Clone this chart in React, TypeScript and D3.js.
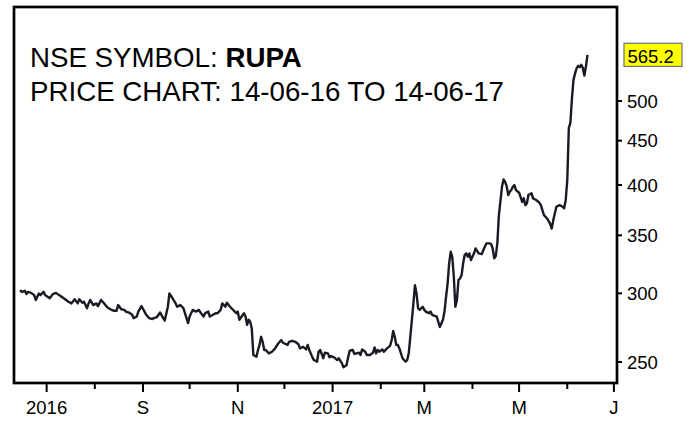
import React from "react";
import * as d3 from "d3";

const WIDTH = 700;
const HEIGHT = 428;

// Daily closing prices, NSE: RUPA
const dates = [
  "2016-06-14","2016-06-15","2016-06-17","2016-06-18","2016-06-19","2016-06-21","2016-06-23","2016-06-24","2016-06-26","2016-06-27",
  "2016-06-29","2016-06-30","2016-07-03","2016-07-05","2016-07-07","2016-07-09","2016-07-12","2016-07-15","2016-07-17","2016-07-19",
  "2016-07-21","2016-07-22","2016-07-24","2016-07-25","2016-07-27","2016-07-28","2016-07-29","2016-07-31","2016-08-02","2016-08-03",
  "2016-08-05","2016-08-07","2016-08-09","2016-08-11","2016-08-13","2016-08-15","2016-08-16","2016-08-18","2016-08-20","2016-08-21",
  "2016-08-23","2016-08-25","2016-08-26","2016-08-28","2016-08-29","2016-08-31","2016-09-02","2016-09-03","2016-09-05","2016-09-07",
  "2016-09-08","2016-09-10","2016-09-11","2016-09-12","2016-09-14","2016-09-15","2016-09-17","2016-09-18","2016-09-20","2016-09-22",
  "2016-09-23","2016-09-25","2016-09-27","2016-09-29","2016-09-30","2016-10-01","2016-10-03","2016-10-05","2016-10-07","2016-10-08",
  "2016-10-10","2016-10-11","2016-10-13","2016-10-14","2016-10-16","2016-10-18","2016-10-19","2016-10-21","2016-10-22","2016-10-24",
  "2016-10-25","2016-10-27","2016-10-29","2016-10-31","2016-11-01","2016-11-02","2016-11-05","2016-11-06","2016-11-07","2016-11-08",
  "2016-11-09","2016-11-10","2016-11-11","2016-11-13","2016-11-14","2016-11-15","2016-11-16","2016-11-17","2016-11-18","2016-11-19",
  "2016-11-21","2016-11-23","2016-11-25","2016-11-27","2016-11-29","2016-11-30","2016-12-03","2016-12-04","2016-12-06","2016-12-08",
  "2016-12-10","2016-12-11","2016-12-13","2016-12-15","2016-12-16","2016-12-17","2016-12-19","2016-12-20","2016-12-22","2016-12-23",
  "2016-12-24","2016-12-25","2016-12-26","2016-12-27","2016-12-29","2016-12-30","2016-12-31","2017-01-02","2017-01-04","2017-01-05",
  "2017-01-07","2017-01-08","2017-01-10","2017-01-11","2017-01-12","2017-01-14","2017-01-15","2017-01-18","2017-01-19","2017-01-20",
  "2017-01-22","2017-01-23","2017-01-25","2017-01-27","2017-01-28","2017-01-29","2017-01-30","2017-01-31","2017-02-02","2017-02-03",
  "2017-02-05","2017-02-07","2017-02-08","2017-02-09","2017-02-10","2017-02-11","2017-02-12","2017-02-13","2017-02-14","2017-02-15",
  "2017-02-17","2017-02-18","2017-02-19","2017-02-20","2017-02-22","2017-02-23","2017-02-24","2017-02-25","2017-02-26","2017-02-28",
  "2017-03-01","2017-03-02","2017-03-04","2017-03-05","2017-03-06","2017-03-09","2017-03-10","2017-03-11","2017-03-13","2017-03-14",
  "2017-03-15","2017-03-16","2017-03-17","2017-03-18","2017-03-19","2017-03-20","2017-03-21","2017-03-22","2017-03-23","2017-03-24",
  "2017-03-25","2017-03-26","2017-03-27","2017-03-28","2017-03-29","2017-03-30","2017-03-31","2017-04-02","2017-04-03","2017-04-05",
  "2017-04-07","2017-04-08","2017-04-10","2017-04-12","2017-04-13","2017-04-14","2017-04-15","2017-04-16","2017-04-17","2017-04-18",
  "2017-04-20","2017-04-21","2017-04-22","2017-04-23","2017-04-24","2017-04-25","2017-04-26","2017-04-27","2017-04-28","2017-04-29",
  "2017-05-01","2017-05-03","2017-05-04","2017-05-05","2017-05-06","2017-05-07","2017-05-09","2017-05-10","2017-05-12","2017-05-14",
  "2017-05-15","2017-05-16","2017-05-17","2017-05-19","2017-05-21","2017-05-22","2017-05-23","2017-05-24","2017-05-25","2017-05-27",
  "2017-05-29","2017-05-30","2017-05-31","2017-06-01","2017-06-02","2017-06-03","2017-06-04","2017-06-05","2017-06-06","2017-06-07",
  "2017-06-08","2017-06-09","2017-06-10","2017-06-11","2017-06-12","2017-06-13","2017-06-14",
];

const closes = [
  302.6,301.2,302.0,299.4,301.2,300.4,298.6,294.8,299.9,298.6,
  301.2,298.6,296.1,299.4,300.4,298.6,296.1,293.4,292.1,295.3,
  292.1,295.3,292.6,293.4,288.4,292.1,294.8,290.8,292.1,290.0,
  294.8,292.1,289.1,287.6,286.5,286.5,290.8,287.6,287.1,285.8,
  285.1,283.4,280.9,282.1,285.8,290.0,285.8,283.4,280.9,280.2,
  280.9,281.7,283.4,285.1,280.9,279.1,289.5,299.9,296.1,292.1,
  289.5,290.8,288.4,280.9,277.2,282.1,287.1,285.8,287.1,285.1,
  282.1,284.6,285.8,282.1,283.4,284.6,284.6,287.1,292.1,289.5,
  292.6,289.5,287.1,284.6,285.8,279.7,284.6,282.1,275.9,279.7,
  278.2,273.2,254.7,253.5,258.1,261.6,267.3,263.8,258.1,258.1,
  255.8,256.9,259.2,262.6,265.0,263.1,261.6,263.8,264.5,263.8,
  262.1,259.2,260.3,258.5,261.6,258.1,253.1,251.3,250.2,256.9,
  258.1,255.4,252.5,256.2,255.8,253.1,254.0,253.1,251.3,252.5,
  249.1,246.5,248.0,253.1,257.6,258.1,255.4,256.2,254.7,258.5,
  256.9,254.7,254.7,256.2,259.9,255.8,258.1,256.9,258.5,256.9,
  259.2,260.9,265.0,271.4,267.3,261.6,261.6,259.2,255.8,252.5,
  250.2,251.3,255.8,267.3,292.1,306.6,299.9,288.4,287.1,289.5,
  287.1,285.8,284.6,285.8,283.4,282.1,278.2,274.4,279.7,285.8,
  297.3,307.9,324.9,335.0,330.6,313.5,289.5,294.8,310.7,312.1,
  314.9,324.9,332.1,333.6,330.6,333.6,327.7,333.6,338.0,333.6,
  333.0,336.5,342.6,342.6,342.0,338.0,329.2,331.2,342.6,369.3,
  398.1,406.0,403.4,398.8,389.5,392.9,394.7,398.1,399.9,394.7,
  391.9,382.6,386.1,379.2,380.9,389.5,391.3,386.1,384.4,381.7,
  379.2,374.3,369.3,366.0,360.8,356.3,364.4,370.9,377.6,379.2,
  377.6,376.0,384.4,405.0,465.5,471.7,503.1,528.9,537.7,545.4,
  548.9,547.0,550.4,546.0,535.0,547.9,565.2,
];

const yTicks = [250, 300, 350, 400, 450, 500];
const xMajorTicks = ["2016-07-01", "2016-09-01", "2016-11-01", "2017-01-01", "2017-03-01", "2017-05-01", "2017-07-01"];
const xMajorLabels = ["2016", "S", "N", "2017", "M", "M", "J"];
const xMinorTicks = ["2016-08-01", "2016-10-01", "2016-12-01", "2017-02-01", "2017-04-01", "2017-06-01"];

const titleLine1 = "NSE SYMBOL: ";
const titleSymbol = "RUPA";
const titleLine2 = "PRICE CHART: 14-06-16 TO 14-06-17";

const FONT = "'Liberation Sans', Arial, Helvetica, sans-serif";

export default function App() {
  const parse = d3.timeParse("%Y-%m-%d");
  const frame = { left: 14, right: 617, top: 7, bottom: 383 };

  const x = d3
    .scaleTime()
    .domain([parse("2016-06-10")!, parse("2017-07-03")!])
    .range([frame.left, frame.right]);

  const y = d3.scaleLog().domain([250, 500]).range([362, 101]);

  const points = dates.map((d, i) => ({ date: parse(d)!, value: closes[i] }));
  const line = d3
    .line<{ date: Date; value: number }>()
    .x((d) => x(d.date))
    .y((d) => y(d.value));

  const last = closes[closes.length - 1];
  const lastY = y(last);

  return (
    <svg
      width={WIDTH}
      height={HEIGHT}
      style={{ position: "absolute", left: 0, top: 0, background: "#ffffff" }}
      fontFamily={FONT}
    >
      <rect x={0} y={0} width={WIDTH} height={HEIGHT} fill="#ffffff" />

      {/* price line */}
      <path d={line(points) ?? ""} fill="none" stroke="#1a1a24" strokeWidth={2.4} strokeLinejoin="round" />

      {/* plot frame */}
      <rect
        x={frame.left}
        y={frame.top}
        width={frame.right - frame.left}
        height={frame.bottom - frame.top}
        fill="none"
        stroke="#000"
        strokeWidth={2.7}
      />

      {/* title */}
      <text x={30} y={67} fontSize={27.7} fill="#000">
        {titleLine1}
        <tspan fontWeight="bold">{titleSymbol}</tspan>
      </text>
      <text x={30} y={100.5} fontSize={27.7} fill="#000">
        {titleLine2}
      </text>

      {/* right price axis */}
      {yTicks.map((t) => (
        <g key={t}>
          <line x1={frame.right} x2={frame.right + 5} y1={y(t)} y2={y(t)} stroke="#000" strokeWidth={2} />
          <text x={627} y={y(t) + 6.5} fontSize={18.5} fill="#000">
            {t}
          </text>
        </g>
      ))}

      {/* last price marker */}
      <rect x={624} y={lastY - 11.6} width={58} height={23.2} fill="#ffff00" stroke="#6d6d8c" strokeWidth={1.2} />
      <text x={627.5} y={lastY + 8.6} fontSize={18.5} fill="#000">
        {last.toFixed(1)}
      </text>

      {/* bottom date axis */}
      {xMajorTicks.map((d, i) => {
        const px = x(parse(d)!);
        return (
          <g key={d}>
            <line x1={px} x2={px} y1={frame.bottom} y2={frame.bottom + 9} stroke="#000" strokeWidth={2} />
            <text x={px} y={414} fontSize={18.5} textAnchor="middle" fill="#000">
              {xMajorLabels[i]}
            </text>
          </g>
        );
      })}
      {xMinorTicks.map((d) => {
        const px = x(parse(d)!);
        return <line key={d} x1={px} x2={px} y1={frame.bottom} y2={frame.bottom + 6} stroke="#000" strokeWidth={2} />;
      })}
    </svg>
  );
}
